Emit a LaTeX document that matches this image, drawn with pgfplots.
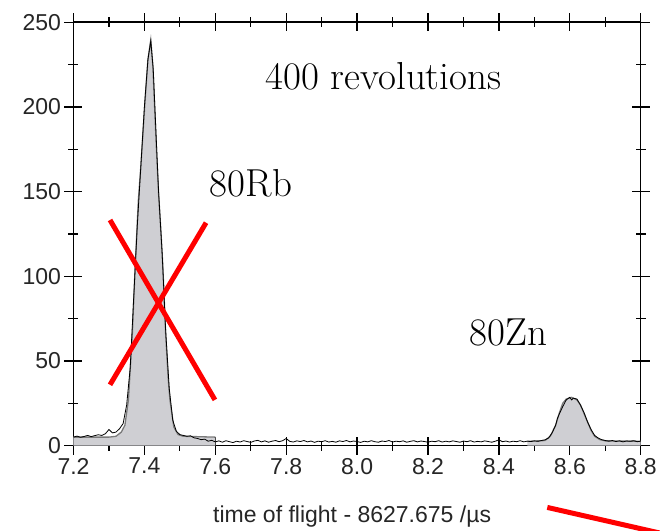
\documentclass[border=0pt]{standalone}
\usepackage{fontspec}
\newfontfamily\sansf{Liberation Sans}
\usepackage{pgfplots}
\pgfplotsset{compat=1.18}
\definecolor{fillgray}{HTML}{CFCFD3}
\definecolor{fitgray}{HTML}{7A7A7A}
\pgfplotstableread{
x y
7.200 5.0
7.300 5.0
7.320 5.5
7.335 8
7.345 12
7.355 27
7.366 66
7.374 106
7.383 145
7.390 165
7.402 204
7.410 228
7.418 239.5
7.424 224
7.428 204
7.434 175
7.440 149
7.447 125
7.452 106
7.460 66
7.467 40
7.472 27
7.483 11
7.495 6.5
7.510 5.5
7.600 5.0
}\fitRb
\pgfplotstableread{
x y
8.480 2.5
8.530 3
8.545 5.5
8.560 12
8.570 19
8.580 25
8.590 27.5
8.605 28.5
8.620 27
8.630 24
8.640 19
8.650 14
8.660 9
8.670 5.5
8.685 3.5
8.700 2.8
8.800 2.6
}\fitZn
\pgfplotstableread{
x y
7.20 5.0
7.21 5.6
7.22 4.9
7.23 5.4
7.24 6.0
7.25 5.3
7.26 5.9
7.27 6.4
7.28 6.0
7.29 7.0
7.30 9.5
7.31 7.5
7.32 8.0
7.33 10
7.34 13
7.35 24
7.36 46
7.37 88
7.38 130
7.39 165
7.40 200
7.41 228
7.418 239
7.425 222
7.43 198
7.44 150
7.45 114
7.46 68
7.47 34
7.48 15
7.49 8.5
7.50 6.5
7.51 6.0
7.52 5.5
7.53 5.8
7.54 4.6
7.55 4.2
7.56 3.5
7.57 3.8
7.58 2.6
7.59 3.1
7.60 2.2
7.61 2.8
7.62 2.0
7.63 2.9
7.64 2.3
7.65 1.8
7.66 2.6
7.67 2.1
7.68 2.9
7.69 2.4
7.70 1.9
7.71 2.7
7.72 3.1
7.73 2.2
7.74 2.8
7.75 2.0
7.76 2.6
7.77 3.0
7.78 2.3
7.79 2.9
7.80 4.2
7.81 2.5
7.82 2.1
7.83 2.8
7.84 2.4
7.85 3.0
7.86 2.2
7.87 2.7
7.88 1.9
7.89 2.6
7.90 2.3
7.91 2.9
7.92 2.1
7.93 2.5
7.94 2.0
7.95 2.8
7.96 2.4
7.97 3.0
7.98 2.2
7.99 2.7
8.00 2.4
8.01 1.9
8.02 2.6
8.03 2.2
8.04 2.9
8.05 2.3
8.06 2.0
8.07 2.7
8.08 2.4
8.09 3.0
8.10 2.1
8.11 2.6
8.12 2.3
8.13 2.8
8.14 2.0
8.15 2.5
8.16 2.9
8.17 2.2
8.18 2.7
8.19 2.4
8.20 2.0
8.21 2.6
8.22 2.3
8.23 2.9
8.24 2.1
8.25 2.6
8.26 2.2
8.27 2.8
8.28 2.4
8.29 2.0
8.30 2.7
8.31 2.3
8.32 2.9
8.33 2.1
8.34 2.5
8.35 2.2
8.36 2.8
8.37 2.4
8.38 2.0
8.39 2.6
8.40 3.4
8.41 2.3
8.42 2.7
8.43 2.1
8.44 2.6
8.45 2.3
8.46 2.9
8.47 2.2
8.48 2.6
8.49 2.4
8.50 2.8
8.51 2.5
8.52 3.0
8.53 3.4
8.54 4.5
8.55 7.5
8.56 12
8.565 16
8.57 18.5
8.58 23
8.59 27
8.60 28.5
8.605 27
8.61 28
8.62 27.5
8.63 24
8.64 19.5
8.65 14
8.66 9.5
8.67 6
8.68 4.5
8.69 3.5
8.70 3.0
8.71 2.6
8.72 3.0
8.73 2.4
8.74 2.8
8.75 2.2
8.76 2.7
8.77 2.5
8.78 2.9
8.79 2.3
8.80 2.6
}\meas
\begin{document}
\begin{tikzpicture}
\begin{axis}[
  scale only axis, width=567.2pt, height=423.4pt,
  xmin=7.2, xmax=8.8, ymin=0, ymax=250,
  xtick={7.2,7.4,7.6,7.8,8.0,8.2,8.4,8.6,8.8},
  ytick={0,50,100,150,200,250},
  minor x tick num=1, minor y tick num=1,
  tick align=center,
  major tick length=18pt, minor tick length=10pt,
  every tick/.style={black, line width=1.3pt},
  axis line style={black, line width=1.5pt},
  xticklabel style={/pgf/number format/.cd, fixed, fixed zerofill, precision=1},
  /pgf/number format/assume math mode=true,
  tick label style={font=\sansf\fontsize{23}{23}\selectfont, text=black!85},
  xlabel={time of flight - 8627.675 /µs},
  xlabel style={font=\sansf\fontsize{23}{23}\selectfont, text=black!85, yshift=-25pt, xshift=-5pt},
  clip=false,
]
\addplot[fill=fillgray, draw=none] table {\fitRb} \closedcycle;
\addplot[fill=fillgray, draw=none] table {\fitZn} \closedcycle;
\addplot[fitgray, line width=1.3pt] table {\fitRb};
\addplot[fitgray, line width=1.3pt] table {\fitZn};
\addplot[black, line width=0.8pt] table {\meas};
\addplot[red, line width=5pt] coordinates {(7.303,133.2) (7.599,27.0)};
\addplot[red, line width=5pt] coordinates {(7.574,131.6) (7.303,35.9)};
\addplot[red, line width=5pt] coordinates {(8.5365,-36.5) (8.8826,-53.0)};
\node[anchor=base, font=\fontsize{39}{39}\selectfont] at (axis cs:8.074,210.5) {400 revolutions};
\node[anchor=base, font=\fontsize{39}{39}\selectfont] at (axis cs:7.7007,147.0) {80Rb};
\node[anchor=base, font=\fontsize{39}{39}\selectfont] at (axis cs:8.4266,58.9) {80Zn};
\coordinate (bbl) at (axis cs:6.9927,-50.35);
\coordinate (btr) at (axis cs:8.8544,263.1);
\end{axis}
\pgfresetboundingbox
\useasboundingbox (bbl) rectangle (btr);
\end{tikzpicture}
\end{document}
